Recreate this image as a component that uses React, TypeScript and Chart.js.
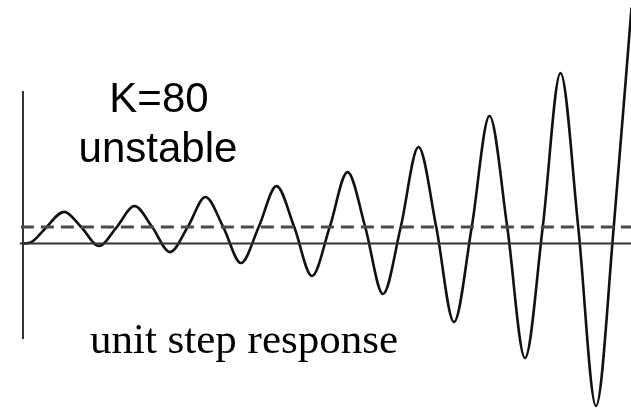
import React, { useEffect, useRef } from "react";
import { Chart, registerables } from "chart.js";

Chart.register(...registerables);

// unit step response, K = 80 (time in oscillation periods)
const responseTime = [
  0, 0.08, 0.15, 0.3, 0.58,
  0.82, 1.07, 1.32, 1.57,
  1.82, 2.07, 2.32, 2.57,
  2.82, 3.07, 3.32, 3.57,
  3.82, 4.07, 4.32, 4.57,
  4.82, 5.07, 5.32, 5.57,
  5.82, 6.07, 6.32, 6.57,
  6.82, 7.07, 7.32, 7.57,
  7.82, 8.07, 8.32, 8.57,
];
const responseValue = [
  0, 0.03, 0.18, 0.85, 1.92,
  1.0, -0.15, 1.0, 2.27,
  1.0, -0.52, 1.0, 2.82,
  1.0, -1.18, 1.0, 3.48,
  1.0, -1.97, 1.0, 4.33,
  1.0, -3.06, 1.0, 5.85,
  1.0, -4.76, 1.0, 7.73,
  1.0, -6.94, 1.0, 10.33,
  1.0, -9.85, 1.0, 14.3,
];

const stepLevel = 1;
const zeroLevel = 0;
const lineStartTime = -0.045;
const lineEndTime = 8.7;
const axisTime = 0;
const axisBottom = -5.79;
const axisTop = 9.24;
const timeMin = -0.324;
const timeMax = 8.563;
const valueMin = -9.97;
const valueMax = 14.76;

const gainLabel = "K=80";
const stateLabel = "unstable";
const captionLabel = "unit step response";

export default function App() {
  const canvasRef = useRef<HTMLCanvasElement | null>(null);

  useEffect(() => {
    const canvas = canvasRef.current;
    if (!canvas) return;
    const responseData = responseTime.map((t, i) => ({ x: t, y: responseValue[i] }));
    const chart = new Chart(canvas, {
      type: "line",
      data: {
        datasets: [
          {
            label: "step",
            data: [
              { x: lineStartTime + 0.015, y: stepLevel },
              { x: lineEndTime, y: stepLevel },
            ],
            borderColor: "#4a4a4a",
            borderWidth: 3,
            borderDash: [13, 7],
            pointRadius: 0,
            tension: 0,
          },
          {
            label: "zero",
            data: [
              { x: lineStartTime, y: zeroLevel },
              { x: lineEndTime, y: zeroLevel },
            ],
            borderColor: "#333333",
            borderWidth: 2,
            pointRadius: 0,
            tension: 0,
          },
          {
            label: "axis",
            data: [
              { x: axisTime, y: axisBottom },
              { x: axisTime, y: axisTop },
            ],
            borderColor: "#333333",
            borderWidth: 2,
            pointRadius: 0,
            tension: 0,
          },
          {
            label: "response",
            data: responseData,
            borderColor: "#111111",
            borderWidth: 2.6,
            pointRadius: 0,
            cubicInterpolationMode: "monotone",
          },
        ],
      },
      options: {
        animation: false,
        responsive: false,
        devicePixelRatio: 1,
        layout: { padding: 0 },
        plugins: {
          legend: { display: false },
          tooltip: { enabled: false },
          title: { display: false },
        },
        scales: {
          x: { type: "linear", min: timeMin, max: timeMax, display: false },
          y: { type: "linear", min: valueMin, max: valueMax, display: false },
        },
      },
    });
    return () => chart.destroy();
  }, []);

  return (
    <div
      style={{
        position: "fixed",
        left: 0,
        top: 0,
        width: 631,
        height: 408,
        background: "#ffffff",
        overflow: "hidden",
      }}
    >
      <canvas ref={canvasRef} width={631} height={408} style={{ position: "absolute", left: 0, top: 0, width: 631, height: 408 }} />
      <div
        style={{
          position: "absolute",
          left: 59,
          width: 200,
          top: 77,
          textAlign: "center",
          fontFamily: "'Liberation Sans', Arial, sans-serif",
          fontSize: 42,
          lineHeight: "42px",
          color: "#000",
        }}
      >
        {gainLabel}
      </div>
      <div
        style={{
          position: "absolute",
          left: 58,
          width: 200,
          top: 127,
          textAlign: "center",
          fontFamily: "'Liberation Sans', Arial, sans-serif",
          fontSize: 42,
          lineHeight: "42px",
          color: "#000",
        }}
      >
        {stateLabel}
      </div>
      <div
        style={{
          position: "absolute",
          left: 44,
          width: 400,
          top: 317,
          textAlign: "center",
          fontFamily: "'Liberation Serif', 'Times New Roman', serif",
          fontSize: 43,
          lineHeight: "43px",
          color: "#000",
          whiteSpace: "nowrap",
        }}
      >
        {captionLabel}
      </div>
    </div>
  );
}
